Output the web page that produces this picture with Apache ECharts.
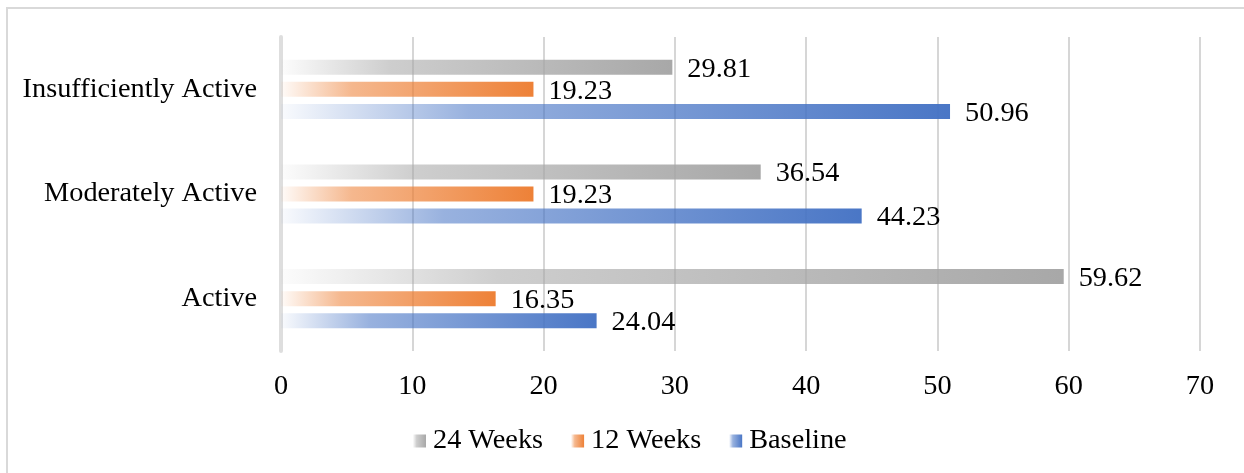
<!DOCTYPE html>
<html>
<head>
<meta charset="utf-8">
<script src="https://cdn.jsdelivr.net/npm/echarts@6/dist/echarts.min.js"></script>
<style>
  html, body { margin: 0; padding: 0; background: #fff; }
  #chart { width: 1244px; height: 473px; }
</style>
</head>
<body>
<div id="chart"></div>
<script>
// Activity levels (bottom to top on the category axis)
const categories = ['Active', 'Moderately Active', 'Insufficiently Active'];
// Share of participants (%) in each activity level
const baseline = [24.04, 44.23, 50.96];
const weeks12 = [16.35, 19.23, 19.23];
const weeks24 = [59.62, 36.54, 29.81];
const seriesNames = ['24 Weeks', '12 Weeks', 'Baseline'];
const xTicks = [0, 10, 20, 30, 40, 50, 60, 70];

const FONT = '"Liberation Serif", "Times New Roman", serif';
const FS = 28.3;

function fade(r, g, b) {
  return new echarts.graphic.LinearGradient(0, 0, 1, 0, [
    { offset: 0, color: `rgba(${r},${g},${b},0.03)` },
    { offset: 0.28, color: `rgba(${r},${g},${b},0.55)` },
    { offset: 1, color: `rgba(${r},${g},${b},0.97)` }
  ]);
}

const colors = {
  'Baseline': [68, 114, 196],
  '12 Weeks': [237, 125, 49],
  '24 Weeks': [165, 165, 165]
};

function bar(name, data) {
  const c = colors[name];
  return {
    name: name,
    type: 'bar',
    data: data,
    barWidth: 15,
    barGap: '47%',
    itemStyle: { color: fade(c[0], c[1], c[2]) },
    label: {
      show: true,
      position: 'right',
      distance: 15,
      fontFamily: FONT,
      fontSize: FS,
      color: '#000',
      offset: [0, 2],
      formatter: p => p.value.toFixed(2)
    }
  };
}

const chart = echarts.init(document.getElementById('chart'), null, { renderer: 'canvas' });
chart.setOption({
  animation: false,
  backgroundColor: '#fff',
  graphic: [{
    type: 'rect',
    shape: { x: 7, y: 8, width: 1300, height: 500 },
    style: { fill: 'none', stroke: '#d9d9d9', lineWidth: 2 },
    z: -10
  }],
  grid: { left: 281, right: 44, top: 37, bottom: 122, containLabel: false },
  legend: {
    bottom: 13,
    left: 408,
    itemWidth: 13,
    itemHeight: 13,
    itemGap: 28,
    data: seriesNames.map(n => ({
      name: n,
      icon: 'rect',
      itemStyle: { color: fade(colors[n][0], colors[n][1], colors[n][2]) }
    })),
    textStyle: { fontFamily: FONT, fontSize: FS, color: '#000', padding: [0, 0, 0, 2] }
  },
  xAxis: {
    type: 'value',
    min: xTicks[0],
    max: xTicks[xTicks.length - 1],
    interval: 10,
    axisLine: { show: false },
    axisTick: { show: false },
    axisLabel: { fontFamily: FONT, fontSize: FS, color: '#000', margin: 22 },
    splitLine: { show: true, lineStyle: { color: '#c8c8c8', width: 1.5 } }
  },
  yAxis: {
    type: 'category',
    data: categories,
    axisLine: { show: true, lineStyle: { color: '#dedede', width: 4 } },
    axisTick: { show: false },
    axisLabel: { fontFamily: FONT, fontSize: FS, color: '#000', margin: 24 }
  },
  // series listed top-to-bottom within each category group
  series: [
    bar('24 Weeks', weeks24),
    bar('12 Weeks', weeks12),
    bar('Baseline', baseline)
  ]
});
</script>
</body>
</html>
